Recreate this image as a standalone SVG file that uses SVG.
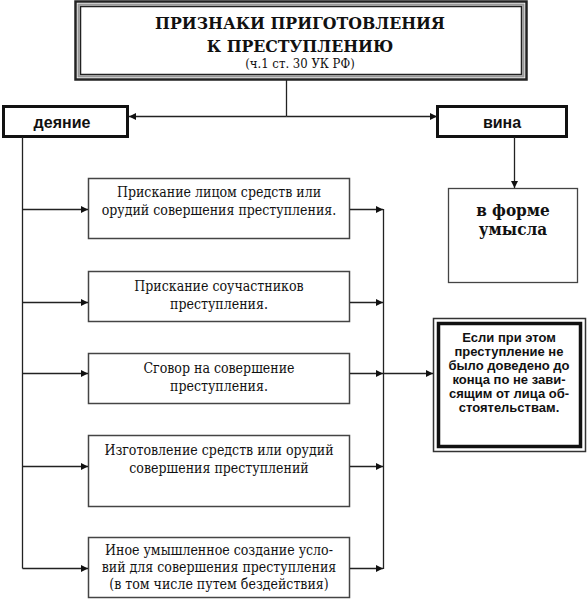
<svg xmlns="http://www.w3.org/2000/svg" width="587" height="600" viewBox="0 0 587 600">
<defs>
<marker id="ar" viewBox="0 0 10 10" refX="10" refY="5" markerWidth="7" markerHeight="7" markerUnits="userSpaceOnUse" orient="auto"><path d="M0,0 L10,5 L0,10 Z" fill="#111"/></marker>
<style>
.ln{fill:none;stroke:#222;stroke-width:1.3}
.box{fill:#fff;stroke:#444;stroke-width:1.5}
.thick{fill:#fff;stroke:#111;stroke-width:3}
.serif{font-family:'DejaVu Serif Condensed','DejaVu Serif','Liberation Serif',serif;fill:#111;text-anchor:middle}
.sans{font-family:'Liberation Sans',Arial,sans-serif;font-weight:bold;fill:#111;text-anchor:middle}
.t{font-size:14px}
</style>
</defs>
<rect width="587" height="600" fill="#fff"/>
<g id="title">
<rect x="75.5" y="1.5" width="451" height="78" fill="#fff" stroke="#222" stroke-width="2.5"/>
<rect x="78.5" y="4.5" width="445" height="72" fill="none" stroke="#999" stroke-width="2"/>
<rect x="80.5" y="6.5" width="441" height="68" fill="none" stroke="#222" stroke-width="1.5"/>
<text class="serif" x="300" y="29" font-size="17.5" font-weight="bold">ПРИЗНАКИ ПРИГОТОВЛЕНИЯ</text>
<text class="serif" x="300" y="52" font-size="17.5" font-weight="bold">К ПРЕСТУПЛЕНИЮ</text>
<text class="serif" x="300" y="68" font-size="13">(ч.1 ст. 30 УК РФ)</text>
</g>
<g id="deyanie">
<rect class="thick" x="3.5" y="106.5" width="124" height="30"/>
<text class="sans" x="62" y="128" font-size="16">деяние</text>
</g>
<g id="vina">
<rect class="thick" x="437.5" y="106.5" width="129" height="30"/>
<text class="sans" x="502" y="128" font-size="16">вина</text>
</g>
<g id="umysel">
<rect x="448.5" y="188.5" width="129" height="94" fill="#fff" stroke="#444" stroke-width="1.3"/>
<text class="serif" x="513" y="216" font-size="17" font-weight="bold">в форме</text>
<text class="serif" x="513" y="235" font-size="17" font-weight="bold">умысла</text>
</g>
<g id="esli">
<rect x="433.5" y="318.5" width="152" height="133" fill="#fff" stroke="#333" stroke-width="1.5"/>
<rect x="438.5" y="323.5" width="142" height="123" fill="#fff" stroke="#111" stroke-width="3.5"/>
<text class="sans" font-size="13"><tspan x="509" y="342">Если при этом</tspan><tspan x="509" y="356">преступление не</tspan><tspan x="509" y="370">было доведено до</tspan><tspan x="509" y="384">конца по не зави-</tspan><tspan x="509" y="398">сящим от лица об-</tspan><tspan x="509" y="412">стоятельствам.</tspan></text>
</g>
<g id="box1">
<rect class="box" x="88.5" y="178.5" width="261" height="60"/>
<text class="serif t"><tspan x="219" y="197">Прискание лицом средств или</tspan><tspan x="219" y="215">орудий совершения преступления.</tspan></text>
</g>
<g id="box2">
<rect class="box" x="88.5" y="271.5" width="261" height="50"/>
<text class="serif t"><tspan x="219" y="291">Прискание соучастников</tspan><tspan x="219" y="309">преступления.</tspan></text>
</g>
<g id="box3">
<rect class="box" x="88.5" y="353.5" width="261" height="50"/>
<text class="serif t"><tspan x="219" y="373">Сговор на совершение</tspan><tspan x="219" y="391">преступления.</tspan></text>
</g>
<g id="box4">
<rect class="box" x="88.5" y="435.5" width="261" height="71"/>
<text class="serif t"><tspan x="219" y="455">Изготовление средств или орудий</tspan><tspan x="219" y="473">совершения преступлений</tspan></text>
</g>
<g id="box5">
<rect class="box" x="88.5" y="537.5" width="261" height="60"/>
<text class="serif t"><tspan x="219" y="555">Иное умышленное создание усло-</tspan><tspan x="219" y="572">вий для совершения преступления</tspan><tspan x="219" y="589">(в том числе путем бездействия)</tspan></text>
</g>
<g id="connectors">
<path class="ln" d="M286.5,80 V116.5"/>
<path class="ln" d="M286.5,116.5 H129" marker-end="url(#ar)"/>
<path class="ln" d="M286.5,116.5 H437" marker-end="url(#ar)"/>
<path class="ln" d="M514.5,137 V188" marker-end="url(#ar)"/>
<path class="ln" d="M22.5,137 V568.5"/>
<path class="ln" d="M22.5,209.5 H88" marker-end="url(#ar)"/>
<path class="ln" d="M22.5,302.5 H88" marker-end="url(#ar)"/>
<path class="ln" d="M22.5,373.5 H88" marker-end="url(#ar)"/>
<path class="ln" d="M22.5,466.5 H88" marker-end="url(#ar)"/>
<path class="ln" d="M22.5,568.5 H88" marker-end="url(#ar)"/>
<path class="ln" d="M350,209.5 H383" marker-end="url(#ar)"/>
<path class="ln" d="M350,302.5 H383" marker-end="url(#ar)"/>
<path class="ln" d="M350,373.5 H383" marker-end="url(#ar)"/>
<path class="ln" d="M350,466.5 H383" marker-end="url(#ar)"/>
<path class="ln" d="M350,568.5 H383" marker-end="url(#ar)"/>
<path class="ln" d="M383.5,209 V569"/>
<path class="ln" d="M383.5,373.5 H433" marker-end="url(#ar)"/>
</g>
</svg>
